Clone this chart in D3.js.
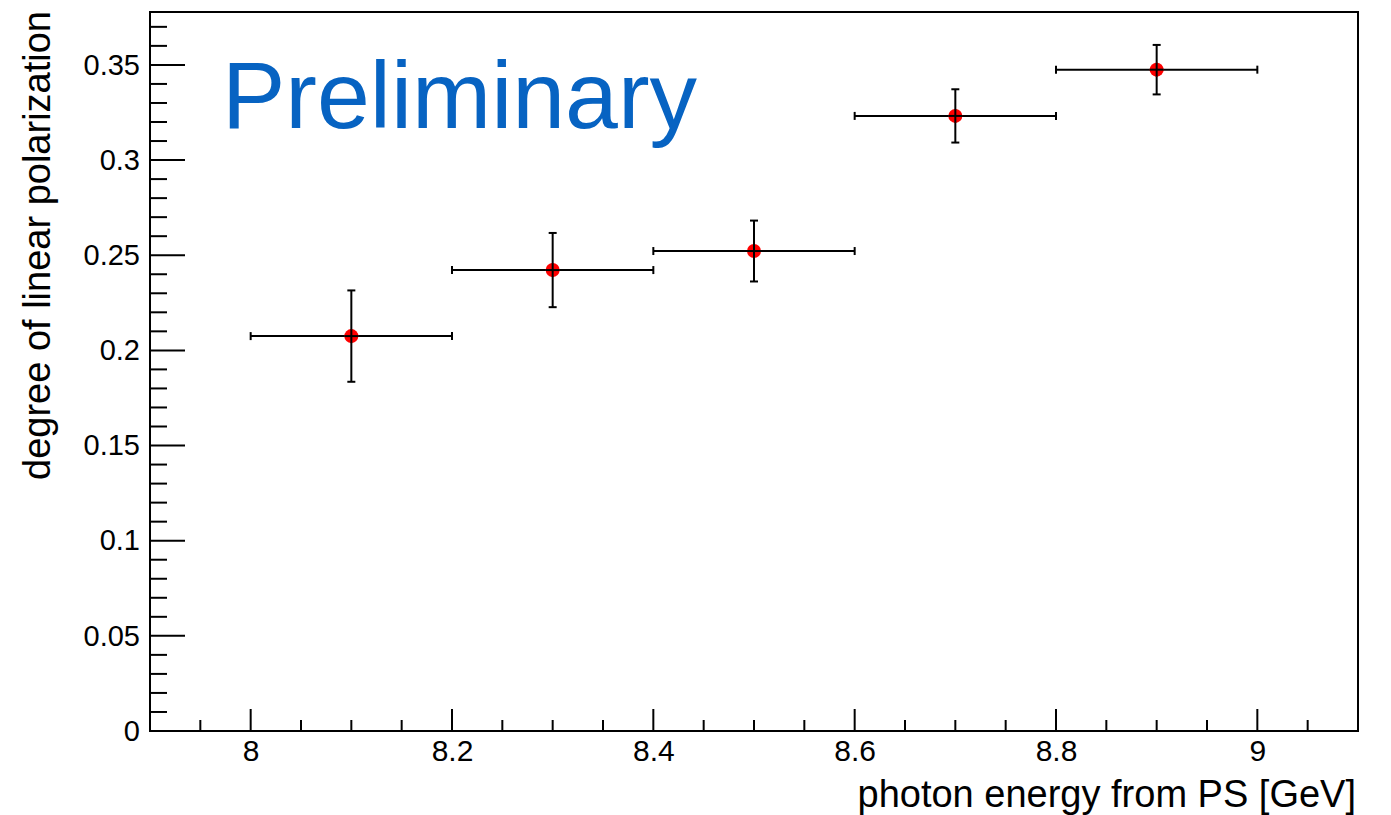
<!DOCTYPE html>
<html>
<head>
<meta charset="utf-8">
<script src="https://cdn.jsdelivr.net/npm/d3@7"></script>
<style>
  body { margin: 0; background: #fff; }
  svg { display: block; font-family: "Liberation Sans", Arial, sans-serif; }
</style>
</head>
<body>
<svg id="chart" width="1391" height="815"></svg>
<script>
const WIDTH = 1391;
const HEIGHT = 815;

// bin centres, half widths, measured polarization and its error
const energy = [8.1, 8.3, 8.5, 8.7, 8.9];
const energyErr = [0.1, 0.1, 0.1, 0.1, 0.1];
const polarization = [0.2075, 0.2422, 0.2522, 0.3232, 0.3475];
const polarizationErr = [0.024, 0.0195, 0.016, 0.014, 0.013];

const xTicks = [8, 8.2, 8.4, 8.6, 8.8, 9];
const yTicks = [0, 0.05, 0.1, 0.15, 0.2, 0.25, 0.3, 0.35];

const margin = { left: 150, right: 33, top: 12, bottom: 84 };

const svg = d3.select("#chart");

const x = d3.scaleLinear()
  .domain([7.9, 9.1])
  .range([margin.left, WIDTH - margin.right]);

const y = d3.scaleLinear()
  .domain([0, 0.3778])
  .range([HEIGHT - margin.bottom, margin.top]);

const x0 = x.range()[0], x1 = x.range()[1];
const y0 = y.range()[0], y1 = y.range()[1];

// frame
svg.append("rect")
  .attr("x", x0)
  .attr("y", y1)
  .attr("width", x1 - x0)
  .attr("height", y0 - y1)
  .attr("fill", "none")
  .attr("stroke", "#000")
  .attr("stroke-width", 2);

// x axis, minor ticks every 0.05
const xMinor = d3.range(7.95, 9.1, 0.05).filter(v => Math.abs(v / 0.2 - Math.round(v / 0.2)) > 1e-6);
const xAxis = d3.axisBottom(x).tickValues(xTicks).tickSize(0).tickPadding(9)
  .tickFormat(d3.format("~g"));

svg.append("g")
  .attr("class", "x-ticks")
  .selectAll("line")
  .data(xMinor.map(v => ({ v, len: 11 })).concat(xTicks.map(v => ({ v, len: 22 }))))
  .join("line")
  .attr("x1", d => x(d.v))
  .attr("x2", d => x(d.v))
  .attr("y1", y0)
  .attr("y2", d => y0 - d.len)
  .attr("stroke", "#000")
  .attr("stroke-width", 2);

svg.append("g")
  .attr("transform", "translate(0," + y0 + ")")
  .call(xAxis)
  .call(g => g.select(".domain").remove())
  .attr("font-size", 30)
  .attr("font-family", "Liberation Sans, Arial, sans-serif")
  .selectAll("text")
  .attr("fill", "#000");

// y axis, minor ticks every 0.01
const yMinor = d3.range(0, 0.378, 0.01).filter(v => Math.abs(v / 0.05 - Math.round(v / 0.05)) > 1e-6);
const yAxis = d3.axisLeft(y).tickValues(yTicks).tickSize(0).tickPadding(10)
  .tickFormat(d3.format("~g"));

svg.append("g")
  .attr("class", "y-ticks")
  .selectAll("line")
  .data(yMinor.map(v => ({ v, len: 17 })).concat(yTicks.map(v => ({ v, len: 35 }))))
  .join("line")
  .attr("x1", x0)
  .attr("x2", d => x0 + d.len)
  .attr("y1", d => y(d.v))
  .attr("y2", d => y(d.v))
  .attr("stroke", "#000")
  .attr("stroke-width", 2);

svg.append("g")
  .attr("transform", "translate(" + x0 + ",0)")
  .call(yAxis)
  .call(g => g.select(".domain").remove())
  .attr("font-size", 29)
  .attr("font-family", "Liberation Sans, Arial, sans-serif")
  .selectAll("text")
  .attr("fill", "#000");

// axis titles
svg.append("text")
  .attr("x", x1 - 2)
  .attr("y", 807)
  .attr("text-anchor", "end")
  .attr("font-size", 38)
  .text("photon energy from PS [GeV]");

svg.append("text")
  .attr("transform", "translate(50," + (y1 - 1) + ") rotate(-90)")
  .attr("text-anchor", "end")
  .attr("font-size", 38)
  .text("degree of linear polarization");

// watermark
svg.append("text")
  .attr("x", 222)
  .attr("y", 128)
  .attr("font-size", 95)
  .attr("font-weight", 300)
  .attr("fill", "#0763c2")
  .text("Preliminary");

// data points with error bars
const points = energy.map((e, i) => ({
  e, ex: energyErr[i], p: polarization[i], ep: polarizationErr[i]
}));

const pt = svg.append("g").selectAll("g").data(points).join("g");
const CAP = 4;

pt.append("line")
  .attr("x1", d => x(d.e - d.ex)).attr("x2", d => x(d.e + d.ex))
  .attr("y1", d => y(d.p)).attr("y2", d => y(d.p))
  .attr("stroke", "#000").attr("stroke-width", 2);
pt.append("line")
  .attr("x1", d => x(d.e)).attr("x2", d => x(d.e))
  .attr("y1", d => y(d.p - d.ep)).attr("y2", d => y(d.p + d.ep))
  .attr("stroke", "#000").attr("stroke-width", 2);

// caps
[-1, 1].forEach(s => {
  pt.append("line")
    .attr("x1", d => x(d.e + s * d.ex)).attr("x2", d => x(d.e + s * d.ex))
    .attr("y1", d => y(d.p) - CAP).attr("y2", d => y(d.p) + CAP)
    .attr("stroke", "#000").attr("stroke-width", 2);
  pt.append("line")
    .attr("x1", d => x(d.e) - CAP).attr("x2", d => x(d.e) + CAP)
    .attr("y1", d => y(d.p + s * d.ep)).attr("y2", d => y(d.p + s * d.ep))
    .attr("stroke", "#000").attr("stroke-width", 2);
});

pt.append("circle")
  .attr("cx", d => x(d.e))
  .attr("cy", d => y(d.p))
  .attr("r", 7)
  .attr("fill", "#ff0000");

// cross through the marker, as the error lines sit on top of it
pt.append("line")
  .attr("x1", d => x(d.e) - 7).attr("x2", d => x(d.e) + 7)
  .attr("y1", d => y(d.p)).attr("y2", d => y(d.p))
  .attr("stroke", "#000").attr("stroke-width", 2);
pt.append("line")
  .attr("x1", d => x(d.e)).attr("x2", d => x(d.e))
  .attr("y1", d => y(d.p) - 7).attr("y2", d => y(d.p) + 7)
  .attr("stroke", "#000").attr("stroke-width", 2);
</script>
</body>
</html>
